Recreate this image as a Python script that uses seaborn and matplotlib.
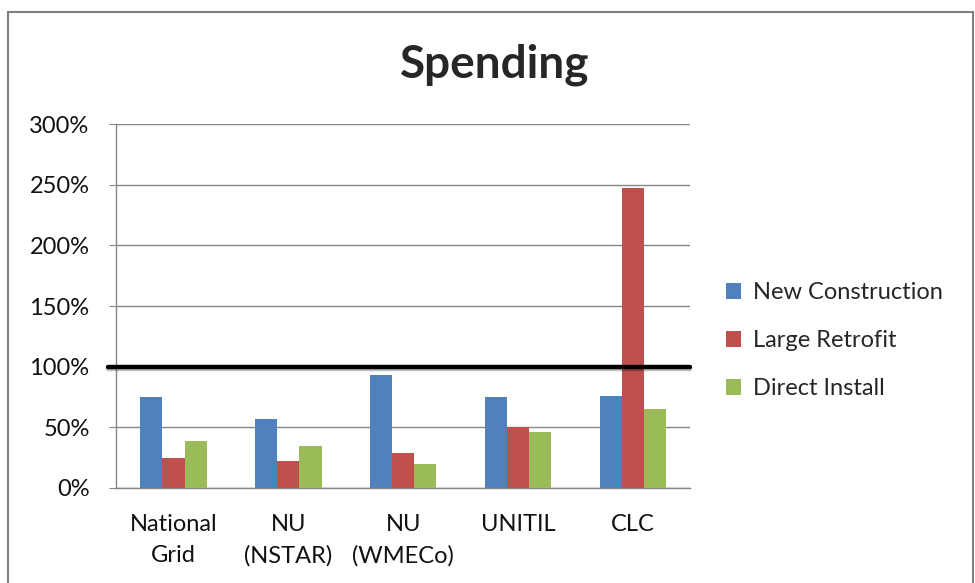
import pandas as pd
import matplotlib.pyplot as plt
import matplotlib.patheffects as pe
from matplotlib.patches import Rectangle
from matplotlib.ticker import PercentFormatter
import seaborn as sns

# Data (percent of budget)
categories = ["National\nGrid", "NU\n(NSTAR)", "NU\n(WMECo)", "UNITIL", "CLC"]
series = ["New Construction", "Large Retrofit", "Direct Install"]
new_construction = [75, 57, 93, 75, 76]
large_retrofit = [25, 22, 29, 50, 247]
direct_install = [39, 35, 20, 46, 65]
yticks = [0, 50, 100, 150, 200, 250, 300]
target = 100

colors = ["#4F81BD", "#C0504D", "#9BBB59"]

sns.set_style("white")
plt.rcParams['font.family'] = ['Lato', 'DejaVu Sans']

df = pd.DataFrame({
    "category": categories * 3,
    "series": [s for s in series for _ in categories],
    "value": new_construction + large_retrofit + direct_install,
})

fig = plt.figure(figsize=(9.75, 5.83), dpi=100)
ax = fig.add_axes([0.119, 0.163, 0.589, 0.624])

sns.barplot(data=df, x="category", y="value", hue="series", palette=colors,
            width=0.58, saturation=1, ax=ax, edgecolor="none", zorder=3)

ax.set_ylim(0, 300)
ax.set_yticks(yticks)
ax.yaxis.set_major_formatter(PercentFormatter(decimals=0))
ax.set_xlabel("")
ax.set_ylabel("")
ax.grid(axis="y", color="#868686", linewidth=1, zorder=0)
ax.grid(axis="x", visible=False)
for side in ["top", "right"]:
    ax.spines[side].set_visible(False)
for side in ["left", "bottom"]:
    ax.spines[side].set_color("#868686")
    ax.spines[side].set_linewidth(1)
ax.tick_params(axis="y", labelsize=17, length=5, color="#868686", left=True,
               pad=14, labelcolor="#111111")
ax.tick_params(axis="x", labelsize=17, length=0, pad=19, labelcolor="#111111")
for lbl in ax.get_xticklabels():
    lbl.set_linespacing(1.55)

# 100% target line with soft shadow
ax.axhline(target, xmin=-0.014, xmax=1.0, color="black", linewidth=3.2,
           clip_on=False, zorder=5,
           path_effects=[pe.SimpleLineShadow(offset=(0, -2), alpha=0.25),
                         pe.Normal()])

ax.set_title("Spending", fontsize=33, fontweight="bold", x=0.66, y=1.105)

leg = ax.legend(loc="center left", bbox_to_anchor=(1.025, 0.405), frameon=False,
                fontsize=17, handlelength=0.65, handleheight=0.65,
                handletextpad=0.5, labelspacing=1.15)

# outer chart frame
fig.patches.append(Rectangle((8 / 975, -0.05), (973 - 8) / 975, 1.05 - 12 / 583,
                             transform=fig.transFigure, fill=False,
                             edgecolor="#7f7f7f", linewidth=1.5))

fig.savefig("out.png", dpi=100)
